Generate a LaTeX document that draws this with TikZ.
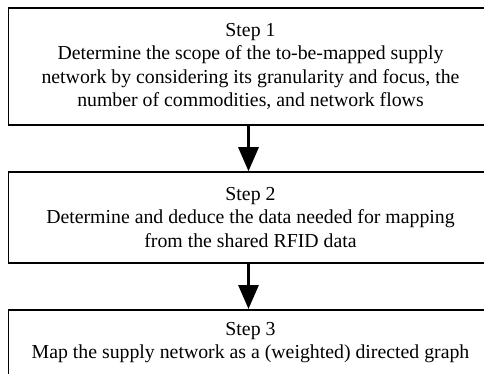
\documentclass[tikz,border=0pt]{standalone}
\usepackage{fontspec}
\setmainfont{Liberation Serif}
\usetikzlibrary{arrows.meta}
\begin{document}
\begin{tikzpicture}[x=1pt,y=-1pt,
  stepbox/.style={draw=black,line width=1.5pt,rectangle,minimum width=484pt,
    align=center,inner sep=0pt,
    font=\fontsize{19.8}{23.5}\selectfont},
  flow/.style={line width=3pt,-{Triangle[width=20pt,length=24pt]}}]
\clip (0,0) rectangle (484,374);
\node[stepbox,minimum height=117pt] (s1) at (250.5,66.5)
  {Step 1\\Determine the scope of the to-be-mapped supply\\network by considering its granularity and focus, the\\number of commodities, and network flows};
\node[stepbox,minimum height=91pt] (s2) at (250.5,217.5)
  {Step 2\\Determine and deduce the data needed for mapping\\from the shared RFID data};
\node[stepbox,minimum height=66pt,anchor=north] (s3) at (250.5,309)
  {Step 3\\Map the supply network as a (weighted) directed graph};
\draw[flow] ([xshift=-2pt]s1.south) -- ([xshift=-2pt]s2.north);
\draw[flow] ([xshift=-2pt]s2.south) -- ([xshift=-2pt]s3.north);
\end{tikzpicture}
\end{document}
